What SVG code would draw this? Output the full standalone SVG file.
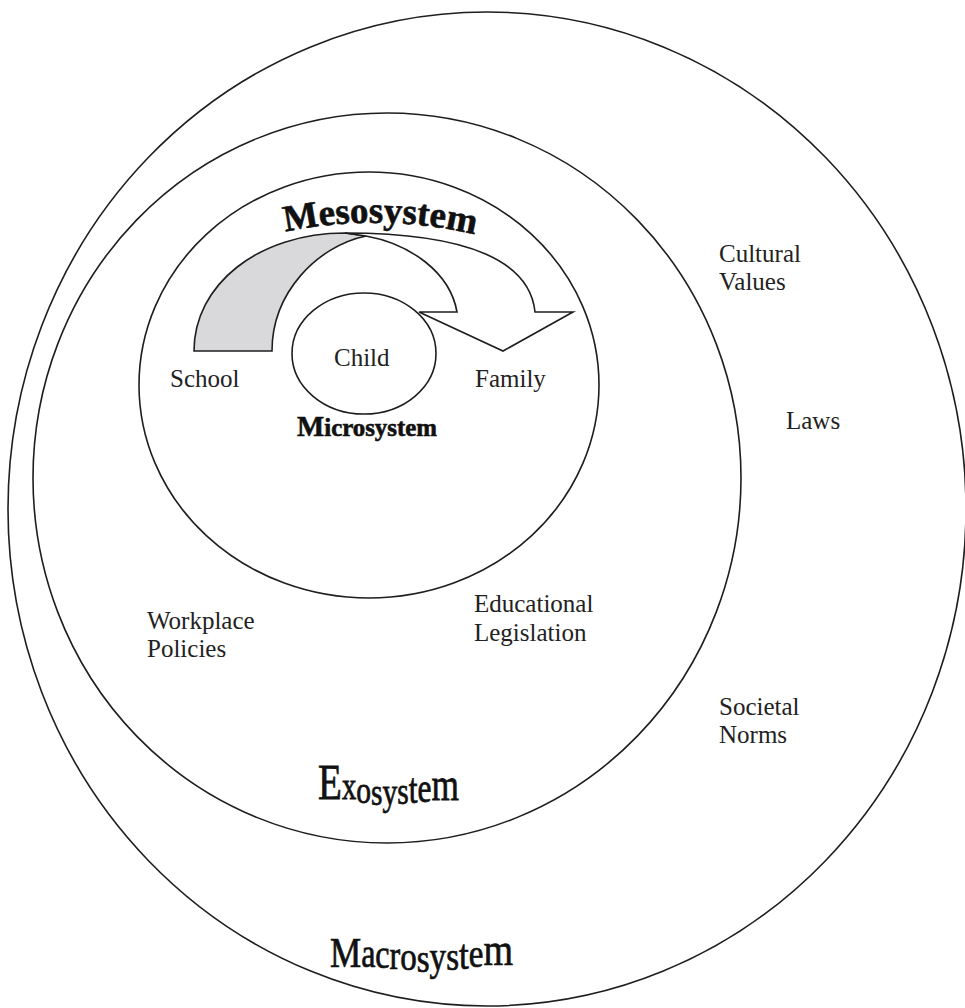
<svg xmlns="http://www.w3.org/2000/svg" width="965" height="1008" viewBox="0 0 965 1008">
  <style>
    .ring { fill: none; stroke: #1e1e1e; stroke-width: 1.6; }
    .band { stroke: #1e1e1e; stroke-width: 1.6; stroke-linejoin: miter; }
    .label { font-family: "Liberation Serif", "Times New Roman", serif; font-size: 25px; fill: #222; }
    .title { font-family: "Liberation Serif", "Times New Roman", serif; fill: #111; stroke: #111; stroke-width: 0.6; }
  </style>
  <rect width="965" height="1008" fill="#fff"/>

  <!-- nested system rings -->
  <g id="macrosystem">
    <ellipse class="ring" cx="487" cy="509" rx="479" ry="497"/>
  </g>
  <g id="exosystem">
    <ellipse class="ring" cx="387" cy="478" rx="354" ry="365"/>
  </g>
  <g id="mesosystem">
    <ellipse class="ring" cx="369" cy="385" rx="230" ry="213"/>
  </g>

  <!-- curved ribbon arrow from school to family -->
  <g id="connectors">
    <path class="band" fill="#d9d9db" d="M194,351 C194,285 258,233 345,233 L366,236 C318,246 272,292 272,351 Z"/>
    <path class="band" fill="#fff" d="M345,233 C470,233 530,262 535,312 L573,312 L503,351 L419,312 L457,312 C450,272 410,244 366,236 Z"/>
  </g>

  <g id="child">
    <ellipse class="ring" fill="#fff" cx="364" cy="353.5" rx="72" ry="60.5"/>
    <text class="label" x="334" y="366">Child</text>
  </g>

  <!-- ring titles -->
  <path id="meso-arc" d="M276,234 Q380,210 484,237" fill="none"/>
  <text class="title" font-size="37" font-weight="bold"><textPath href="#meso-arc" startOffset="50%" text-anchor="middle">Mesosystem</textPath></text>

  <text class="title" x="297" y="436" font-size="25" font-weight="bold" textLength="140" lengthAdjust="spacingAndGlyphs"><tspan font-size="29">M</tspan>icrosystem</text>

  <text class="title" x="318" y="799" textLength="141" lengthAdjust="spacingAndGlyphs" transform="matrix(1 0 0 1.25 0 -199.75)"><tspan font-size="41">E</tspan><tspan font-size="30">x</tspan><tspan font-size="31" dy="3.2">o</tspan><tspan font-size="31" dy="1.6">s</tspan><tspan font-size="31">y</tspan><tspan font-size="31" dy="-0.8">s</tspan><tspan font-size="33" dy="-0.8">t</tspan><tspan font-size="33" dy="-0.8">e</tspan><tspan font-size="37" dy="-1.6">m</tspan></text>

  <text class="title" x="330" y="967" textLength="183" lengthAdjust="spacingAndGlyphs" transform="matrix(1 0 0 1.22 0 -212.74)"><tspan font-size="35">M</tspan><tspan font-size="32">a</tspan><tspan font-size="32" dy="0.8">c</tspan><tspan font-size="32" dy="0.8">r</tspan><tspan font-size="33" dy="0.8">o</tspan><tspan font-size="33" dy="1.6">s</tspan><tspan font-size="33" dy="-1.6">y</tspan><tspan font-size="33">s</tspan><tspan font-size="35" dy="-0.8">t</tspan><tspan font-size="33" dy="-1.6">e</tspan><tspan font-size="38" dy="-1.6">m</tspan></text>

  <!-- setting labels -->
  <g id="school"><text class="label" x="170" y="387">School</text></g>
  <g id="family"><text class="label" x="475" y="387">Family</text></g>
  <g id="workplace-policies">
    <text class="label" x="147" y="629">Workplace</text>
    <text class="label" x="147" y="657">Policies</text>
  </g>
  <g id="educational-legislation">
    <text class="label" x="474" y="612">Educational</text>
    <text class="label" x="474" y="641">Legislation</text>
  </g>
  <g id="cultural-values">
    <text class="label" x="719" y="262">Cultural</text>
    <text class="label" x="719" y="290">Values</text>
  </g>
  <g id="laws"><text class="label" x="786" y="429">Laws</text></g>
  <g id="societal-norms">
    <text class="label" x="719" y="715">Societal</text>
    <text class="label" x="719" y="743">Norms</text>
  </g>
</svg>
